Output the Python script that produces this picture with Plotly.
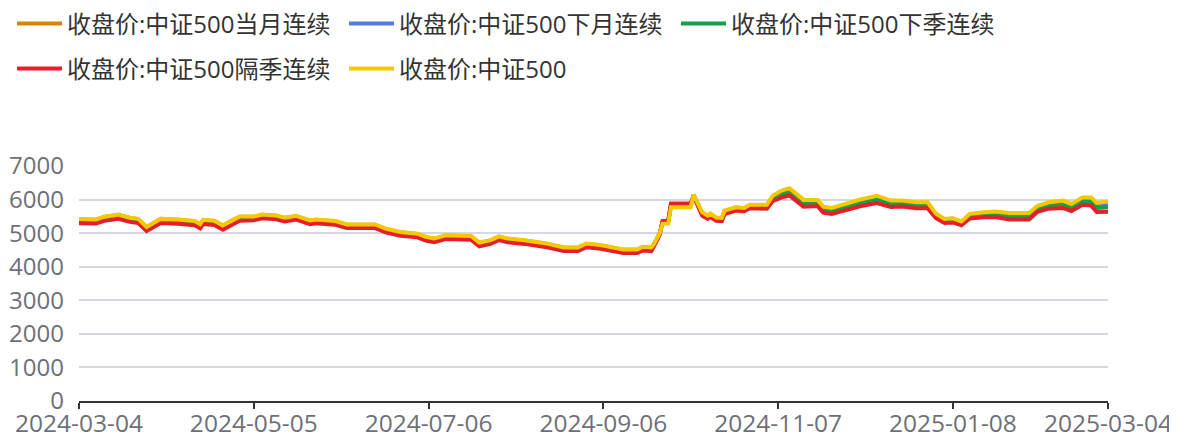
import plotly.graph_objects as go

dates = ["2024-03-04","2024-03-10","2024-03-13","2024-03-18","2024-03-22","2024-03-25","2024-03-28","2024-03-31",
         "2024-04-02","2024-04-08","2024-04-14","2024-04-16","2024-04-17","2024-04-21","2024-04-24","2024-04-27","2024-04-30",
         "2024-05-05","2024-05-08","2024-05-13","2024-05-16","2024-05-20","2024-05-25","2024-05-27",
         "2024-06-03","2024-06-07","2024-06-17","2024-06-21","2024-06-26",
         "2024-07-02","2024-07-05","2024-07-08","2024-07-12","2024-07-21","2024-07-24","2024-07-28","2024-07-31",
         "2024-08-03","2024-08-09","2024-08-17","2024-08-23","2024-08-28","2024-08-31",
         "2024-09-05","2024-09-10","2024-09-13","2024-09-18","2024-09-20","2024-09-23","2024-09-24","2024-09-25","2024-09-26","2024-09-27","2024-09-29","2024-09-30",
         "2024-10-07","2024-10-08","2024-10-11","2024-10-13","2024-10-14","2024-10-16","2024-10-18","2024-10-19","2024-10-23","2024-10-26","2024-10-28",
         "2024-11-03","2024-11-05","2024-11-08","2024-11-11","2024-11-13","2024-11-16","2024-11-21","2024-11-23","2024-11-26","2024-11-29",
         "2024-12-03","2024-12-06","2024-12-12","2024-12-17","2024-12-21","2024-12-26","2024-12-30",
         "2025-01-02","2025-01-05","2025-01-08","2025-01-11","2025-01-14","2025-01-19","2025-01-23","2025-01-28",
         "2025-02-04","2025-02-07","2025-02-11","2025-02-16","2025-02-19","2025-02-23","2025-02-26","2025-02-28","2025-03-04"]

spot = [5420,5410,5490,5555,5460,5425,5185,5330,
        5425,5405,5360,5270,5395,5370,5230,5360,5495,
        5495,5555,5525,5460,5515,5380,5405,
        5360,5260,5260,5130,5035,
        4985,4890,4840,4935,4915,4720,4790,4905,
        4840,4790,4690,4575,4575,4690,
        4645,4575,4515,4515,4595,4575,4680,4840,5000,5280,5290,5770,
        5770,6145,5625,5525,5585,5465,5455,5670,5770,5750,5845,
        5845,6110,6260,6340,6200,5985,5985,5790,5750,5825,
        5930,6000,6115,5970,5970,5920,5920,
        5575,5425,5440,5345,5575,5625,5645,5600,
        5600,5815,5920,5970,5870,6065,6065,5900,5940]

cur_month = [5410,5400,5480,5545,5450,5415,5175,5320,
             5430,5400,5350,5260,5385,5360,5220,5365,5485,
             5485,5545,5515,5450,5505,5370,5395,
             5350,5250,5250,5120,5025,
             4975,4880,4830,4925,4905,4710,4780,4895,
             4830,4780,4680,4565,4565,4680,
             4635,4565,4505,4505,4585,4565,4675,4835,5000,5320,5330,5830,
             5830,6140,5615,5515,5575,5455,5445,5660,5760,5740,5835,
             5835,6095,6240,6320,6195,5990,5965,5770,5730,5805,
             5910,5980,6095,5950,5950,5900,5900,
             5560,5415,5430,5335,5560,5610,5630,5580,
             5580,5795,5900,5950,5850,6045,6040,5875,5910]

next_month = [5380,5370,5450,5515,5420,5385,5145,5290,
              5385,5365,5320,5230,5355,5330,5190,5320,5455,
              5460,5520,5490,5425,5480,5345,5370,
              5325,5225,5225,5095,5000,
              4950,4855,4805,4900,4880,4685,4755,4870,
              4805,4755,4655,4540,4540,4655,
              4610,4540,4480,4480,4560,4540,4655,4820,4990,5340,5350,5850,
              5850,6130,5595,5495,5555,5435,5425,5640,5740,5720,5815,
              5810,6060,6200,6275,6135,5925,5930,5735,5695,5770,
              5875,5940,6050,5915,5915,5865,5865,
              5535,5390,5405,5310,5530,5580,5595,5545,
              5545,5760,5865,5905,5805,6000,5990,5820,5850]

next_quarter = [5350,5340,5420,5485,5390,5355,5115,5260,
                5355,5335,5290,5200,5325,5300,5160,5290,5425,
                5435,5495,5465,5400,5455,5320,5345,
                5300,5200,5200,5070,4975,
                4925,4830,4780,4875,4855,4660,4730,4845,
                4780,4730,4630,4515,4515,4630,
                4585,4515,4455,4455,4535,4515,4635,4805,4980,5350,5360,5870,
                5870,6120,5570,5470,5530,5410,5400,5615,5715,5695,5790,
                5780,6020,6150,6220,6080,5875,5885,5690,5650,5720,
                5825,5890,5995,5865,5875,5825,5825,
                5505,5360,5375,5285,5500,5545,5555,5495,
                5495,5715,5815,5850,5755,5945,5935,5750,5775]

far_quarter = [5295,5285,5365,5430,5335,5300,5060,5205,
               5300,5280,5235,5145,5270,5245,5105,5235,5370,
               5385,5445,5415,5350,5405,5270,5295,
               5250,5150,5150,5020,4925,
               4875,4780,4730,4825,4805,4610,4680,4795,
               4730,4680,4580,4465,4465,4580,
               4535,4465,4405,4405,4485,4465,4600,4780,4960,5360,5370,5880,
               5880,6105,5525,5425,5485,5365,5355,5570,5670,5650,5745,
               5725,5950,6060,6120,5980,5785,5805,5610,5570,5635,
               5740,5800,5895,5780,5795,5745,5745,
               5445,5305,5320,5235,5435,5475,5480,5410,
               5410,5635,5730,5750,5660,5845,5825,5630,5640]

names = ["收盘价:中证500当月连续", "收盘价:中证500下月连续", "收盘价:中证500下季连续",
         "收盘价:中证500隔季连续", "收盘价:中证500"]
colors = ["#d9830f", "#4f7de9", "#12a04a", "#e61e2b", "#f5c800"]
series = [cur_month, next_month, next_quarter, far_quarter, spot]
legend_ids = ["legend", "legend", "legend", "legend2", "legend2"]

x_ticks = ["2024-03-04", "2024-05-05", "2024-07-06", "2024-09-06", "2024-11-07", "2025-01-08", "2025-03-04"]
y_ticks = [0, 1000, 2000, 3000, 4000, 5000, 6000, 7000]

FONT = "Open Sans, Noto Sans CJK SC"

fig = go.Figure()
for name, col, vals, lg in zip(names, colors, series, legend_ids):
    fig.add_trace(go.Scatter(x=dates, y=vals, name=name, mode="lines",
                             line=dict(color=col, width=4), legend=lg))

legend_common = dict(orientation="h", xref="container", yref="container",
                     xanchor="left", yanchor="middle",
                     font=dict(family=FONT, size=24, color="#333333"),
                     entrywidth=272, entrywidthmode="pixels",
                     bgcolor="rgba(0,0,0,0)", itemwidth=45)

# the page body adds an 8px offset; margins compensate for it
fig.update_layout(
    width=1177, height=438,
    margin=dict(l=71, r=77, t=158, b=45, autoexpand=False),
    paper_bgcolor="white", plot_bgcolor="white",
    font=dict(family=FONT, color="#6e7079"),
    showlegend=True,
    legend=dict(x=4 / 1177, y=1 - 16 / 438, **legend_common),
    legend2=dict(x=4 / 1177, y=1 - 61 / 438, **legend_common),
    xaxis=dict(type="date", range=["2024-03-04", "2025-03-04"],
               tickvals=x_ticks, ticktext=x_ticks, automargin=False,
               showgrid=False, showline=True, linecolor="#333333", linewidth=2,
               ticks="outside", ticklen=6, tickwidth=2, tickcolor="#333333",
               ticklabelstandoff=-6,
               tickfont=dict(family=FONT, size=24.5, color="#6e7079"),
               zeroline=False),
    yaxis=dict(range=[0, 7000], tickvals=y_ticks, automargin=False,
               showgrid=True, gridcolor="#d5d8e3", gridwidth=1.5,
               showline=False, ticks="", zeroline=False,
               ticklabelstandoff=14,
               tickfont=dict(family=FONT, size=24, color="#6e7079")),
)

fig.write_html("out.html")
